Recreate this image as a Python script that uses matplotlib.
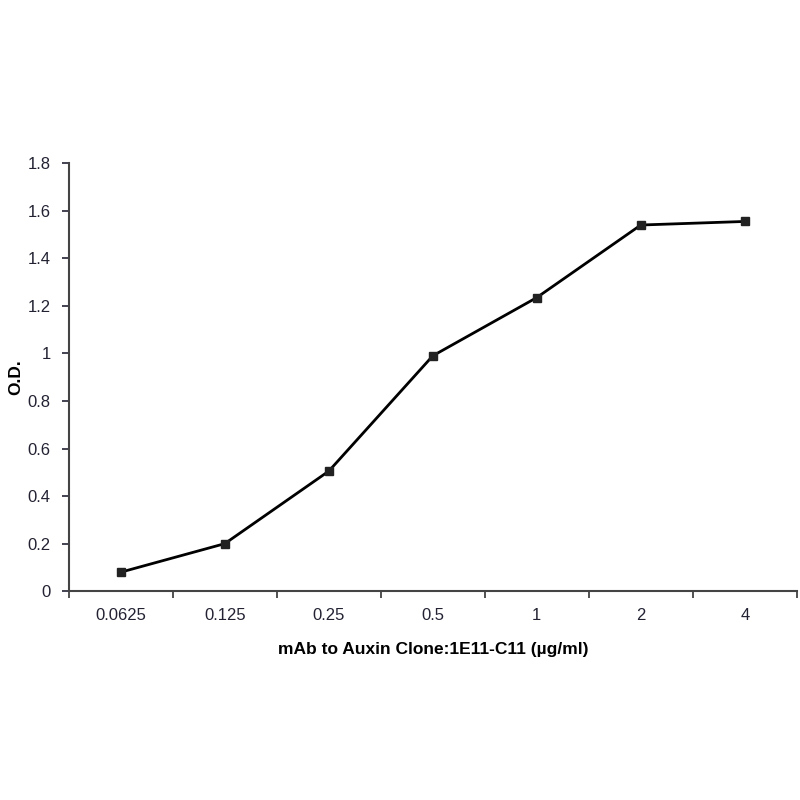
import numpy as np
import matplotlib.pyplot as plt

plt.rcParams['font.family'] = ['Liberation Sans', 'DejaVu Sans']

categories = ['0.0625', '0.125', '0.25', '0.5', '1', '2', '4']
od = [0.08, 0.20, 0.505, 0.99, 1.235, 1.54, 1.555]

fig = plt.figure(figsize=(8, 8), dpi=100)
ax = fig.add_axes([0.086, 0.261, 0.91, 0.535])

x = np.arange(len(categories))
ax.plot(x, od, color='black', lw=2, marker='s', ms=5.5,
        markerfacecolor='#222222', markeredgecolor='#222222')

ax.set_xlim(-0.5, len(categories) - 0.5)
ax.set_ylim(0, 1.8)
ax.set_yticks(np.arange(0, 1.81, 0.2))
ax.set_yticklabels(['0', '0.2', '0.4', '0.6', '0.8', '1', '1.2', '1.4', '1.6', '1.8'])

# category labels centred, tick marks between categories
ax.set_xticks(x)
ax.set_xticklabels(categories)
ax.set_xticks(np.arange(-0.5, len(categories) + 0.5, 1), minor=True)
ax.tick_params(axis='x', which='major', length=0, pad=12, labelsize=12, colors='#222233')
ax.tick_params(axis='x', which='minor', length=5, width=1.2, direction='out', color='#333333')
ax.tick_params(axis='y', length=5, width=1.2, direction='out', labelsize=12,
               colors='#222233', pad=8)

for s in ['top', 'right']:
    ax.spines[s].set_visible(False)
for s in ['left', 'bottom']:
    ax.spines[s].set_color('#444444')
    ax.spines[s].set_linewidth(1.5)

ax.set_xlabel('mAb to Auxin Clone:1E11-C11 (µg/ml)', fontsize=12.5, fontweight='bold')
ax.set_ylabel('O.D.', fontsize=12.5, fontweight='bold')
ax.xaxis.set_label_coords(0.5, -0.119)
ax.yaxis.set_label_coords(-0.062, 0.5)

fig.savefig('out.png', dpi=100)
